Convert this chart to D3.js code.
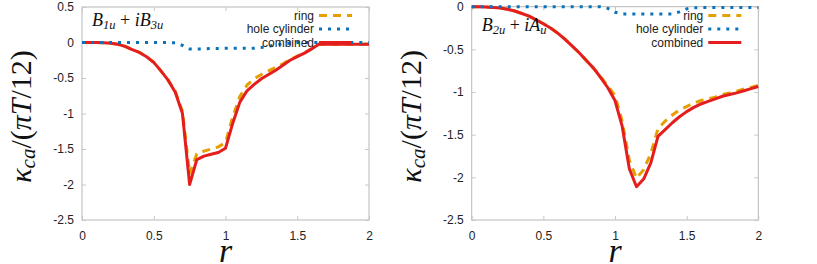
<!DOCTYPE html>
<html><head><meta charset="utf-8">
<script src="https://cdn.jsdelivr.net/npm/d3@7/dist/d3.min.js"></script>
<style>
html,body{margin:0;padding:0;background:#fff;}
svg{display:block;}
.tick{font-family:"Liberation Sans",Arial,sans-serif;font-size:12px;fill:#222;}
.math{font-family:"Liberation Serif","Times New Roman",serif;}
</style></head>
<body>
<svg id="chart" width="817" height="264"></svg>
<script>
// ---------- data ----------
const rGrid = [0,0.05,0.1,0.15,0.2,0.25,0.3,0.35,0.4,0.45,0.5,0.55,0.6,0.65,0.7,0.75,0.8,0.85,0.9,0.95,1.0,
  1.05,1.1,1.15,1.2,1.25,1.3,1.35,1.4,1.45,1.5,1.55,1.6,1.65,1.7,1.75,1.8,1.85,1.9,1.95,2.0];

// Left panel: B1u + iB3u
const leftCombined = [0,0,0,-0.003,-0.01,-0.025,-0.055,-0.1,-0.14,-0.2,-0.28,-0.4,-0.53,-0.7,-1.0,-2.0,
  -1.65,-1.6,-1.575,-1.55,-1.49,-1.14,-0.84,-0.68,-0.59,-0.51,-0.45,-0.39,-0.32,-0.25,-0.2,-0.15,-0.09,
  -0.025,-0.025,-0.025,-0.025,-0.025,-0.025,-0.025,-0.025];
const leftRing = [0,0,0,-0.003,-0.01,-0.025,-0.055,-0.1,-0.14,-0.2,-0.28,-0.4,-0.53,-0.69,-0.97,-1.85,
  -1.57,-1.53,-1.5,-1.47,-1.41,-1.05,-0.76,-0.6,-0.51,-0.45,-0.4,-0.35,-0.3,-0.24,-0.19,-0.145,-0.09,
  -0.025,-0.025,-0.025,-0.025,-0.025,-0.025,-0.025,-0.025];
const leftHole = [0,0,0,0,0,0,0,0,0,0,0,0,0,-0.005,-0.04,-0.09,-0.09,-0.09,-0.085,-0.085,-0.08,
  -0.08,-0.08,-0.08,-0.08,-0.07,-0.05,-0.035,-0.02,-0.01,0,0,0,0,0,0,0,0,0,0,0];

// Right panel: B2u + iAu
const rightCombined = [0,0,-0.003,-0.008,-0.015,-0.03,-0.05,-0.08,-0.11,-0.155,-0.2,-0.25,-0.31,-0.38,-0.46,
  -0.54,-0.63,-0.72,-0.83,-0.95,-1.1,-1.4,-1.9,-2.11,-2.02,-1.83,-1.52,-1.44,-1.36,-1.29,-1.23,-1.18,-1.14,
  -1.11,-1.08,-1.05,-1.03,-1.01,-0.985,-0.96,-0.935];
const rightRing = [0,0,-0.003,-0.008,-0.015,-0.03,-0.05,-0.08,-0.11,-0.155,-0.2,-0.25,-0.31,-0.38,-0.46,
  -0.54,-0.63,-0.72,-0.82,-0.93,-1.04,-1.34,-1.8,-2.01,-1.91,-1.72,-1.43,-1.34,-1.27,-1.21,-1.17,-1.13,-1.1,
  -1.08,-1.06,-1.03,-1.01,-0.99,-0.965,-0.945,-0.92];
const rightHole = [0,0,0,0,0,0,0,0,0,0,0,0,0,0,0,0,0,0,0,-0.02,-0.065,-0.085,-0.085,-0.085,-0.085,-0.085,
  -0.085,-0.085,-0.085,-0.06,-0.025,-0.012,-0.01,-0.01,-0.01,-0.01,-0.01,-0.01,-0.01,-0.01,-0.01];

const xTicks = [0,0.5,1,1.5,2];
const xTickLabels = ["0","0.5","1","1.5","2"];
const leftYTicks = [0.5,0,-0.5,-1,-1.5,-2,-2.5];
const leftYTickLabels = ["0.5","0","-0.5","-1","-1.5","-2","-2.5"];
const rightYTicks = [0,-0.5,-1,-1.5,-2,-2.5];
const rightYTickLabels = ["0","-0.5","-1","-1.5","-2","-2.5"];
const legendLabels = ["ring","hole cylinder","combined"];

// ---------- drawing ----------
const svg = d3.select("#chart");
const colors = {ring:"#e69f00", hole:"#0a72ba", combined:"#e41e1c"};

function panel(cfg){
  const x = d3.scaleLinear().domain([0,2]).range([cfg.x0,cfg.x1]);
  const y = d3.scaleLinear().domain(cfg.yDomain).range([cfg.y0,cfg.y1]);
  const g = svg.append("g");

  // frame
  g.append("rect").attr("x",cfg.x0).attr("y",cfg.y0).attr("width",cfg.x1-cfg.x0).attr("height",cfg.y1-cfg.y0)
    .attr("fill","none").attr("stroke","#b8b8b8").attr("stroke-width",1);

  // axes with inward ticks
  const tl = 4;
  const axB = g.append("g").attr("transform",`translate(0,${cfg.y1})`)
    .call(d3.axisBottom(x).tickValues(xTicks).tickSize(-tl).tickPadding(11).tickFormat((d,i)=>xTickLabels[i]));
  const axT = g.append("g").attr("transform",`translate(0,${cfg.y0})`)
    .call(d3.axisTop(x).tickValues(xTicks).tickSize(-tl).tickFormat(""));
  const axL = g.append("g").attr("transform",`translate(${cfg.x0},0)`)
    .call(d3.axisLeft(y).tickValues(cfg.yTicks).tickSize(-tl).tickPadding(8).tickFormat((d,i)=>cfg.yTickLabels[i]));
  const axR = g.append("g").attr("transform",`translate(${cfg.x1},0)`)
    .call(d3.axisRight(y).tickValues(cfg.yTicks).tickSize(-tl).tickFormat(""));
  [axB,axT,axL,axR].forEach(a=>{
    a.select(".domain").remove();
    a.selectAll(".tick line").attr("stroke","#c8c8c8");
    a.selectAll(".tick text").attr("class","tick").attr("fill","#222").style("font-size","12px")
      .style("font-family","'Liberation Sans',Arial,sans-serif");
  });

  const line = d3.line().x((d,i)=>x(rGrid[i])).y(d=>y(d));
  g.append("path").datum(cfg.ring).attr("d",line).attr("fill","none").attr("stroke",colors.ring)
    .attr("stroke-width",3).attr("stroke-dasharray","8,6");
  g.append("path").datum(cfg.combined).attr("d",line).attr("fill","none").attr("stroke",colors.combined)
    .attr("stroke-width",3).attr("stroke-linejoin","round");
  g.append("path").datum(cfg.hole).attr("d",line).attr("fill","none").attr("stroke",colors.hole)
    .attr("stroke-width",3).attr("stroke-dasharray","3,6");

  // legend
  const rows = [15.5,29,42.5];
  const styles = [
    {c:colors.ring,da:"8,6"},
    {c:colors.hole,da:"3,6"},
    {c:colors.combined,da:null}
  ];
  legendLabels.forEach((lab,i)=>{
    g.append("text").attr("x",cfg.x1-55).attr("y",rows[i]).attr("dy","0.35em").attr("text-anchor","end")
      .style("font-family","'Liberation Sans',Arial,sans-serif").style("font-size","12px").attr("fill","#222").text(lab);
    const ln = g.append("line").attr("x1",cfg.x1-50).attr("x2",cfg.x1-17).attr("y1",rows[i]).attr("y2",rows[i])
      .attr("stroke",styles[i].c).attr("stroke-width",3);
    if(styles[i].da) ln.attr("stroke-dasharray",styles[i].da);
  });

  // panel label
  const pl = g.append("text").attr("class","math").attr("x",cfg.x0+10).attr("y",cfg.labelY)
    .style("font-size","18px").attr("fill","#111");
  cfg.label.forEach(p=>{
    const t = pl.append("tspan").text(p.t);
    if(p.i) t.style("font-style","italic");
    if(p.sub) t.attr("baseline-shift","-25%").style("font-size","12.5px");
  });

  // y label
  const yl = g.append("text").attr("class","math")
    .attr("transform",`translate(${cfg.x0-51},${(cfg.y0+cfg.y1)/2+3}) rotate(-90)`)
    .attr("text-anchor","middle").style("font-size","30px").attr("fill","#111");
  yl.append("tspan").text("κ").style("font-style","italic");
  yl.append("tspan").text("ca").style("font-style","italic").style("font-size","21px").attr("baseline-shift","-20%");
  yl.append("tspan").text("/(");
  yl.append("tspan").text("πT").style("font-style","italic");
  yl.append("tspan").text("/12)");

  // x label
  g.append("text").attr("class","math").attr("x",(cfg.x0+cfg.x1)/2).attr("y",262)
    .attr("text-anchor","middle").style("font-size","34px").style("font-style","italic").attr("fill","#111").text("r");
}

panel({x0:82,x1:369,y0:7,y1:220,yDomain:[0.5,-2.5],yTicks:leftYTicks,yTickLabels:leftYTickLabels,
  ring:leftRing,hole:leftHole,combined:leftCombined,labelY:26,
  label:[{t:"B",i:1},{t:"1u",i:1,sub:1},{t:" + "},{t:"iB",i:1},{t:"3u",i:1,sub:1}]});
panel({x0:471.7,x1:758.3,y0:6.7,y1:220,yDomain:[0,-2.5],yTicks:rightYTicks,yTickLabels:rightYTickLabels,
  ring:rightRing,hole:rightHole,combined:rightCombined,labelY:31,
  label:[{t:"B",i:1},{t:"2u",i:1,sub:1},{t:" + "},{t:"iA",i:1},{t:"u",i:1,sub:1}]});
</script>
</body></html>
